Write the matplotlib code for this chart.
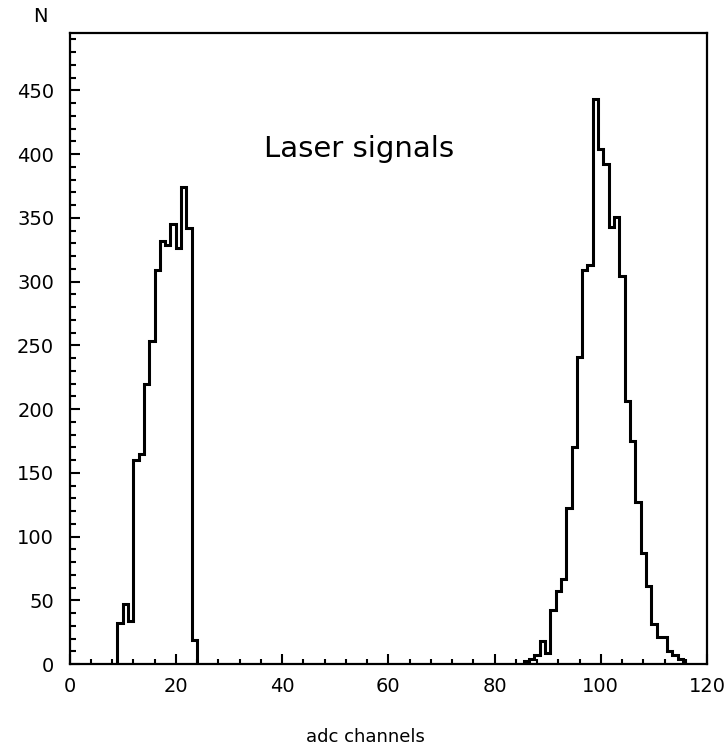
import matplotlib
matplotlib.use("Agg")
import matplotlib.pyplot as plt
from matplotlib.ticker import MultipleLocator
import numpy as np

# Left peak: lower channel edges and counts
left_channels = [9, 10, 11, 12, 13, 14, 15, 16, 17, 18, 19, 20, 21, 22, 23]
left_counts = [32, 47, 34, 160, 165, 220, 253, 309, 332, 329, 345, 326, 374, 342, 19]

# Right peak: lower channel edges and counts
right_channels = [85.5, 86.5, 87.5, 88.5, 89.5, 90.5, 91.5, 92.5, 93.5, 94.5,
                  95.5, 96.5, 97.5, 98.5, 99.5, 100.5, 101.5, 102.5, 103.5,
                  104.5, 105.5, 106.5, 107.5, 108.5, 109.5, 110.5, 111.5,
                  112.5, 113.5, 114.5]
right_counts = [2, 4, 7, 18, 9, 42, 57, 67, 122, 170,
                241, 309, 313, 443, 404, 392, 343, 351, 304,
                206, 175, 127, 87, 61, 31, 21, 21,
                10, 7, 4]

x_ticks = [0, 20, 40, 60, 80, 100, 120]
y_ticks = [0, 50, 100, 150, 200, 250, 300, 350, 400, 450]

plt.rcParams['font.family'] = ['DejaVu Sans']

fig = plt.figure(figsize=(7.28, 7.54), dpi=100)
ax = fig.add_axes([69.5 / 728, 1 - 664 / 754, (707 - 69.5) / 728, (664 - 33) / 754])

bw = 1.0
le = np.array(left_channels, dtype=float)
ax.stairs(left_counts, np.append(le, le[-1] + bw), baseline=0, color='black', lw=2.2)
re = np.array(right_channels, dtype=float)
ax.stairs(right_counts, np.append(re, re[-1] + bw), baseline=0, color='black', lw=2.2)

ax.set_xlim(0, 120)
ax.set_ylim(0, 495)
ax.set_xticks(x_ticks)
ax.set_yticks(y_ticks)
ax.xaxis.set_minor_locator(MultipleLocator(4))
ax.yaxis.set_minor_locator(MultipleLocator(10))
ax.tick_params(axis='both', which='both', direction='in', top=False, right=False,
               width=1.5, colors='black', labelsize=14)
ax.tick_params(axis='y', which='major', length=7, pad=11)
ax.tick_params(axis='y', which='minor', length=4)
ax.tick_params(axis='x', which='major', length=7, pad=9)
ax.tick_params(axis='x', which='minor', length=3.5)
for s in ax.spines.values():
    s.set_linewidth(1.6)

ax.text(54.5, 404, 'Laser signals', fontsize=21, ha='center', va='center')
fig.text(40 / 728, 1 - 16 / 754, 'N', fontsize=14, ha='center', va='center')
fig.text(365 / 728, 1 - 737 / 754, 'adc channels', fontsize=13, ha='center', va='center')

fig.savefig('out.png', dpi=100)
